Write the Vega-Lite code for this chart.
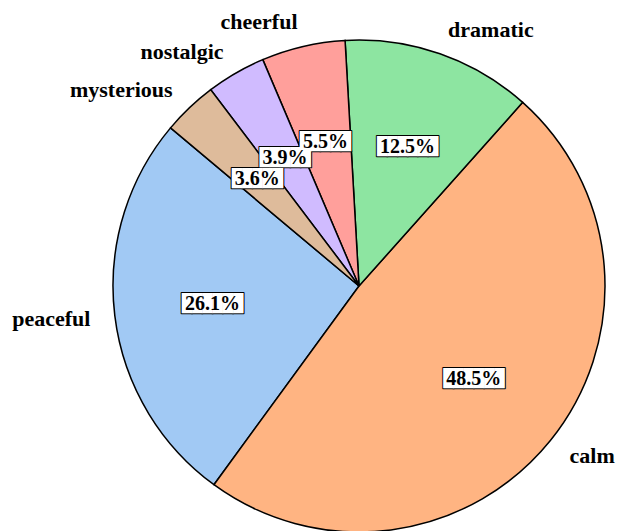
{
  "$schema": "https://vega.github.io/schema/vega-lite/v6.json",
  "width": 492,
  "height": 492,
  "autosize": {"type": "none"},
  "padding": {"left": 113, "top": 40, "right": 12, "bottom": 0},
  "background": "white",
  "data": {"values": [
    {"mood": "peaceful", "value": 26.1, "i": 0},
    {"mood": "calm", "value": 48.5, "i": 1},
    {"mood": "dramatic", "value": 12.5, "i": 2},
    {"mood": "cheerful", "value": 5.5, "i": 3},
    {"mood": "nostalgic", "value": 3.9, "i": 4},
    {"mood": "mysterious", "value": 3.6, "i": 5}
  ]},
  "transform": [{"calculate": "format(datum.value, '.1f') + '%'", "as": "pct"}],
  "encoding": {
    "theta": {"field": "value", "type": "quantitative", "stack": true, "scale": {"range": [-0.8727, 5.4105]}},
    "order": {"field": "i", "type": "quantitative", "sort": "descending"},
    "color": {"field": "mood", "type": "nominal", "legend": null,
      "scale": {"domain": ["peaceful", "calm", "dramatic", "cheerful", "nostalgic", "mysterious"],
                "range": ["#a1c9f4", "#ffb482", "#8de5a1", "#ff9f9b", "#d0bbff", "#debb9b"]}}
  },
  "layer": [
    {"mark": {"type": "arc", "stroke": "black", "strokeWidth": 1.5}},
    {"mark": {"type": "text", "radius": 270.6, "align": "left", "baseline": "middle", "font": "Liberation Serif", "fontWeight": "bold", "fontSize": 22},
     "encoding": {"text": {"field": "mood"}, "detail": {"field": "mood"}, "color": {"value": "black"},
       "opacity": {"condition": {"test": "datum.mood == 'calm' || datum.mood == 'dramatic'", "value": 1}, "value": 0}}},
    {"mark": {"type": "text", "radius": 270.6, "align": "right", "baseline": "middle", "font": "Liberation Serif", "fontWeight": "bold", "fontSize": 22},
     "encoding": {"text": {"field": "mood"}, "detail": {"field": "mood"}, "color": {"value": "black"},
       "opacity": {"condition": {"test": "datum.mood == 'calm' || datum.mood == 'dramatic'", "value": 0}, "value": 1}}},
    {"mark": {"type": "text", "radius": 147.6, "align": "center", "baseline": "middle", "font": "DejaVu Sans Mono", "fontSize": 17, "stroke": "black", "strokeWidth": 2, "strokeJoin": "round"},
     "encoding": {"text": {"condition": {"test": "length(datum.pct) > 4", "value": "██████"}, "value": "█████"}, "detail": {"field": "mood"}, "color": {"value": "black"}}},
    {"mark": {"type": "text", "radius": 147.6, "align": "center", "baseline": "middle", "font": "DejaVu Sans Mono", "fontSize": 17},
     "encoding": {"text": {"condition": {"test": "length(datum.pct) > 4", "value": "██████"}, "value": "█████"}, "detail": {"field": "mood"}, "color": {"value": "white"}}},
    {"mark": {"type": "text", "radius": 147.6, "align": "center", "baseline": "middle", "font": "Liberation Serif", "fontWeight": "bold", "fontSize": 20},
     "encoding": {"text": {"field": "pct"}, "detail": {"field": "mood"}, "color": {"value": "black"}}}
  ]
}
